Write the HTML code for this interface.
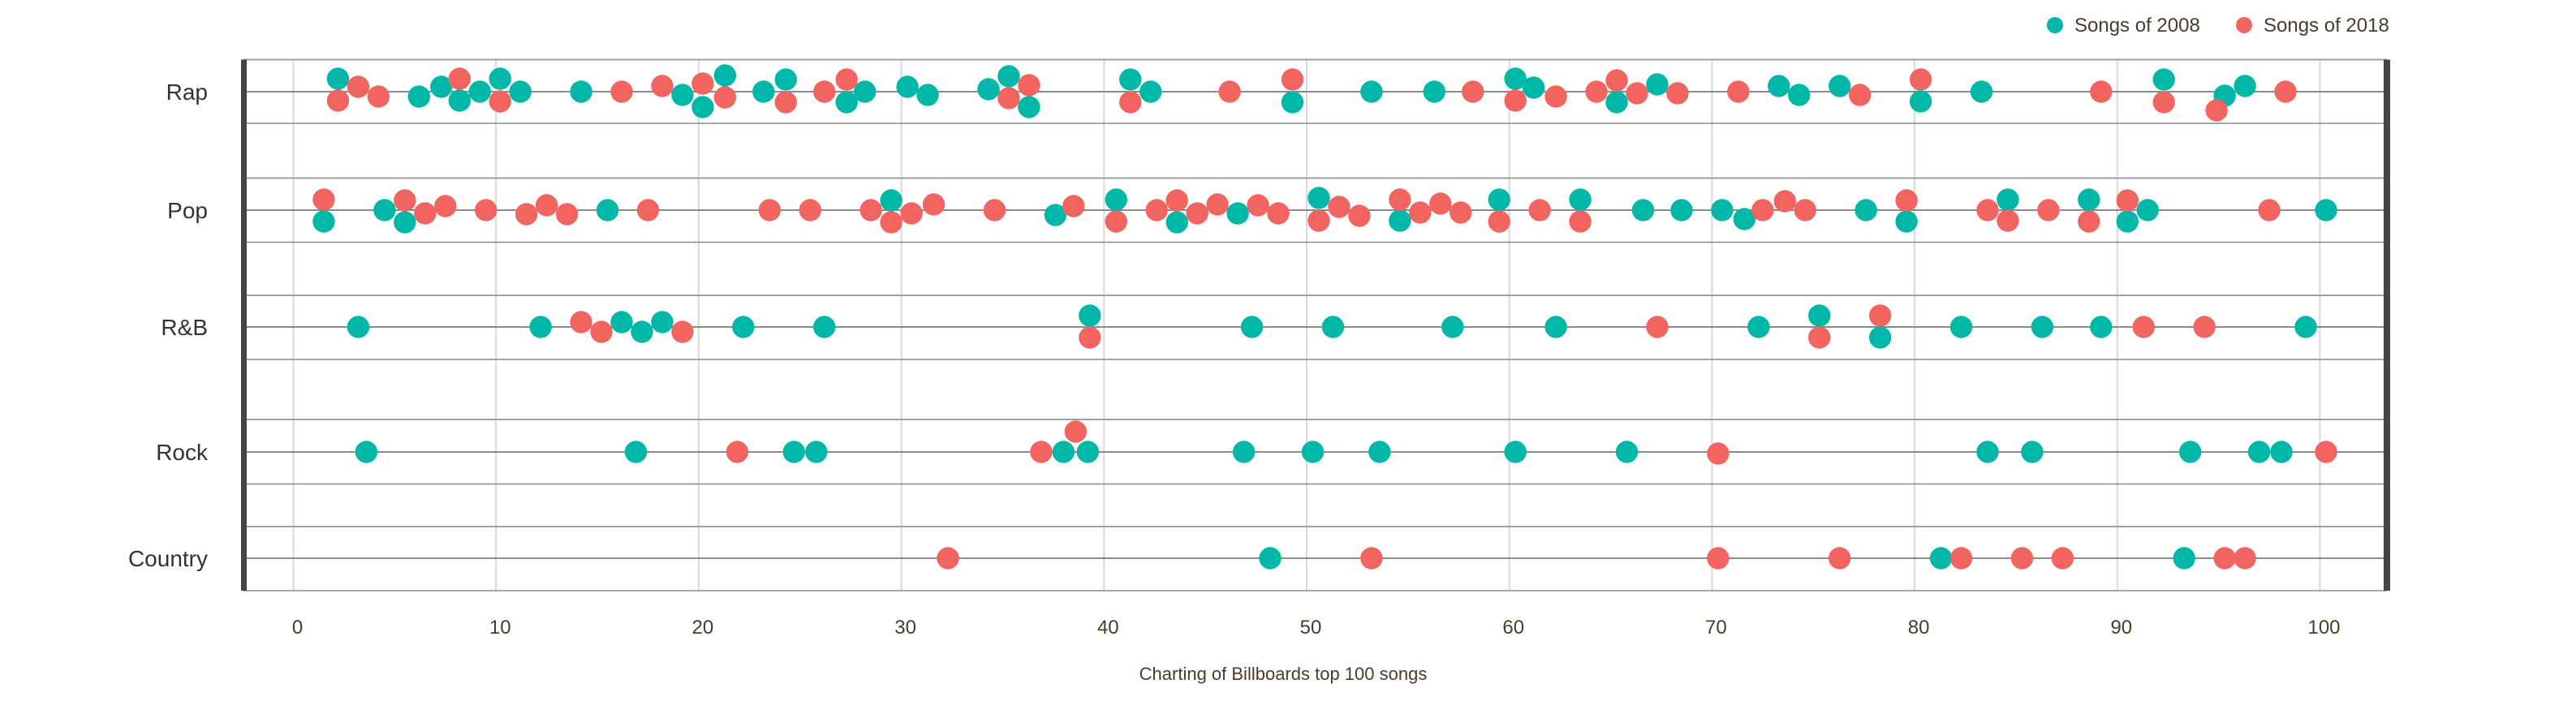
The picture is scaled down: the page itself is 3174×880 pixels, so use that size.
<!DOCTYPE html>
<html><head><meta charset="utf-8"><style>
html,body{margin:0;padding:0;background:#fff;}
svg{display:block;font-family:"Liberation Sans","DejaVu Sans",sans-serif;}
</style></head><body>
<svg id="chart" width="3174" height="880" viewBox="0 0 3174 880"></svg>
<script>
const categories = ["Rap","Pop","R&B","Rock","Country"];
const xTicks = [0,10,20,30,40,50,60,70,80,90,100];
const seriesNames = ["Songs of 2008","Songs of 2018"];
// values: [chart position, jitter]
const rap2008 = [[2.2,-16],[6.2,6],[7.3,-6],[8.2,11],[9.2,0],[10.2,-16],[11.2,0],[14.2,0],[19.2,4],[20.2,19],[21.3,-20],[23.2,0],[24.3,-15],[27.3,13],[28.2,0],[30.3,-6],[31.3,4],[34.3,-3],[35.3,-19],[36.3,19],[41.3,-15],[42.3,0],[49.3,13],[53.2,0],[56.3,0],[60.3,-16],[61.2,-5],[65.3,13],[67.3,-9],[73.3,-7],[74.3,4],[76.3,-7],[80.3,12],[83.3,0],[92.3,-15],[95.3,5],[96.3,-7]];
const rap2018 = [[2.2,11],[3.2,-6],[4.2,6],[8.2,-16],[10.2,12],[16.2,0],[18.2,-7],[20.2,-10],[21.3,7],[24.3,13],[26.2,0],[27.3,-15],[35.3,8],[36.3,-8],[41.3,13],[46.2,0],[49.3,-15],[58.2,0],[60.3,11],[62.3,6],[64.3,0],[65.3,-14],[66.3,2],[68.3,2],[71.3,0],[77.3,4],[80.3,-15],[89.2,0],[92.3,13],[94.9,23],[98.3,0]];
const pop2008 = [[1.5,14],[4.5,0],[5.5,15],[15.5,0],[29.5,-12],[37.6,6],[40.6,-13],[43.6,15],[46.6,4],[50.6,-15],[54.6,13],[59.5,-13],[63.5,-13],[66.6,0],[68.5,0],[70.5,0],[71.6,11],[77.6,0],[79.6,14],[84.6,-13],[88.6,-13],[90.5,14],[91.5,0],[100.3,0]];
const pop2018 = [[1.5,-13],[5.5,-12],[6.5,4],[7.5,-5],[9.5,0],[11.5,5],[12.5,-6],[13.5,5],[17.5,0],[23.5,0],[25.5,0],[28.5,0],[29.5,15],[30.5,4],[31.6,-7],[34.6,0],[38.5,-5],[40.6,14],[42.6,0],[43.6,-12],[44.6,4],[45.6,-7],[47.6,-6],[48.6,4],[50.6,13],[51.6,-4],[52.6,7],[54.6,-13],[55.6,3],[56.6,-8],[57.6,3],[59.5,14],[61.5,0],[63.5,14],[72.5,0],[73.6,-11],[74.6,0],[79.6,-12],[83.6,0],[84.6,13],[86.6,0],[88.6,14],[90.5,-12],[97.5,0]];
const rnb2008 = [[3.2,0],[12.2,0],[16.2,-6],[17.2,6],[18.2,-6],[22.2,0],[26.2,0],[39.3,-14],[47.3,0],[51.3,0],[57.2,0],[62.3,0],[72.3,0],[75.3,-14],[78.3,13],[82.3,0],[86.3,0],[89.2,0],[99.3,0]];
const rnb2018 = [[14.2,-6],[15.2,6],[19.2,6],[39.3,13],[67.3,0],[75.3,13],[78.3,-14],[91.3,0],[94.3,0]];
const rock2008 = [[3.6,0],[16.9,0],[24.7,0],[25.8,0],[38.0,0],[39.2,0],[46.9,0],[50.3,0],[53.6,0],[60.3,0],[65.8,0],[83.6,0],[85.8,0],[93.6,0],[97.0,0],[98.1,0]];
const rock2018 = [[21.9,0],[36.9,0],[38.6,-25],[70.3,2],[100.3,0]];
const country2008 = [[48.2,0],[81.3,0],[93.3,0]];
const country2018 = [[32.3,0],[53.2,0],[70.3,0],[76.3,0],[82.3,0],[85.3,0],[87.3,0],[95.3,0],[96.3,0]];

const data2008 = [rap2008,pop2008,rnb2008,rock2008,country2008];
const data2018 = [rap2018,pop2018,rnb2018,rock2018,country2018];

const NS="http://www.w3.org/2000/svg";
const svg=document.getElementById('chart');
function mk(tag,attrs,parent){const e=document.createElementNS(NS,tag);for(const k in attrs)e.setAttribute(k,attrs[k]);(parent||svg).appendChild(e);return e;}
const X0=361.5, XS=24.97;
function xScale(v){return X0+v*XS;}
const rowCenter=[113,259,403,557,688];
const bandTop=[73.5,219.5,364,517,649];
const bandBot=[152,298.5,443,596.5,728];
function yScale(i,j){return rowCenter[i]+j;}
const PL=300, PR=2941, PT=73.5, PB=728;
const C08="#01b7a8", C18="#f1645f";

// vertical gridlines
xTicks.forEach(t=>{
  const g=mk('line',{x1:xScale(t),x2:xScale(t),y1:PT,y2:PB,stroke:"#d9d9d9","stroke-width":2});
  
  
  const lb=mk('text',{x:xScale(t)+5,y:781,"text-anchor":"middle","font-size":24,fill:"#4b3b2b"});
  lb.textContent=t;
  
  
});
// bands
categories.forEach((c,i)=>{
  const t=mk('line',{x1:PL,x2:PR,y1:bandTop[i],y2:bandTop[i],stroke:"#a0a0a0","stroke-width":2});
  
  
  const b=mk('line',{x1:PL,x2:PR,y1:bandBot[i],y2:bandBot[i],stroke:"#8a8a8a","stroke-width":1.5});
  
  
  const m=mk('line',{x1:PL,x2:PR,y1:rowCenter[i],y2:rowCenter[i],stroke:"#666","stroke-width":1.5});
  
  
  const l=mk('text',{x:256,y:rowCenter[i]+10,"text-anchor":"end","font-size":28,fill:"#333"});
  l.textContent=c;
  
  
});
// side bars
const lbar=mk('rect',{x:297,y:PT,width:7,height:PB-PT,fill:"#454545"});


const rbar=mk('rect',{x:2937,y:PT,width:8,height:PB-PT,fill:"#454545"});



function drawSeries(arr,color,name){
  arr.forEach((row,i)=>{
    row.forEach(p=>{
      const c=mk('circle',{cx:xScale(p[0]),cy:yScale(i,p[1]),r:13.7,fill:color});
      
      
    });
  });
}
drawSeries(data2008,C08,'dot-2008');
drawSeries(data2018,C18,'dot-2018');

// x title
const xt=mk('text',{x:1581,y:838,"text-anchor":"middle","font-size":22,fill:"#4b3b2b"});
xt.textContent="Charting of Billboards top 100 songs";



// legend
const lx=[2532,2765];
seriesNames.forEach((s,k)=>{
  const d=mk('circle',{cx:lx[k],cy:31,r:10,fill:k?C18:C08});
  
  
  const t=mk('text',{x:lx[k]+24,y:39,"font-size":24,fill:"#4b3b2b"});
  t.textContent=s;
  
  
});
</script>
</body></html>
